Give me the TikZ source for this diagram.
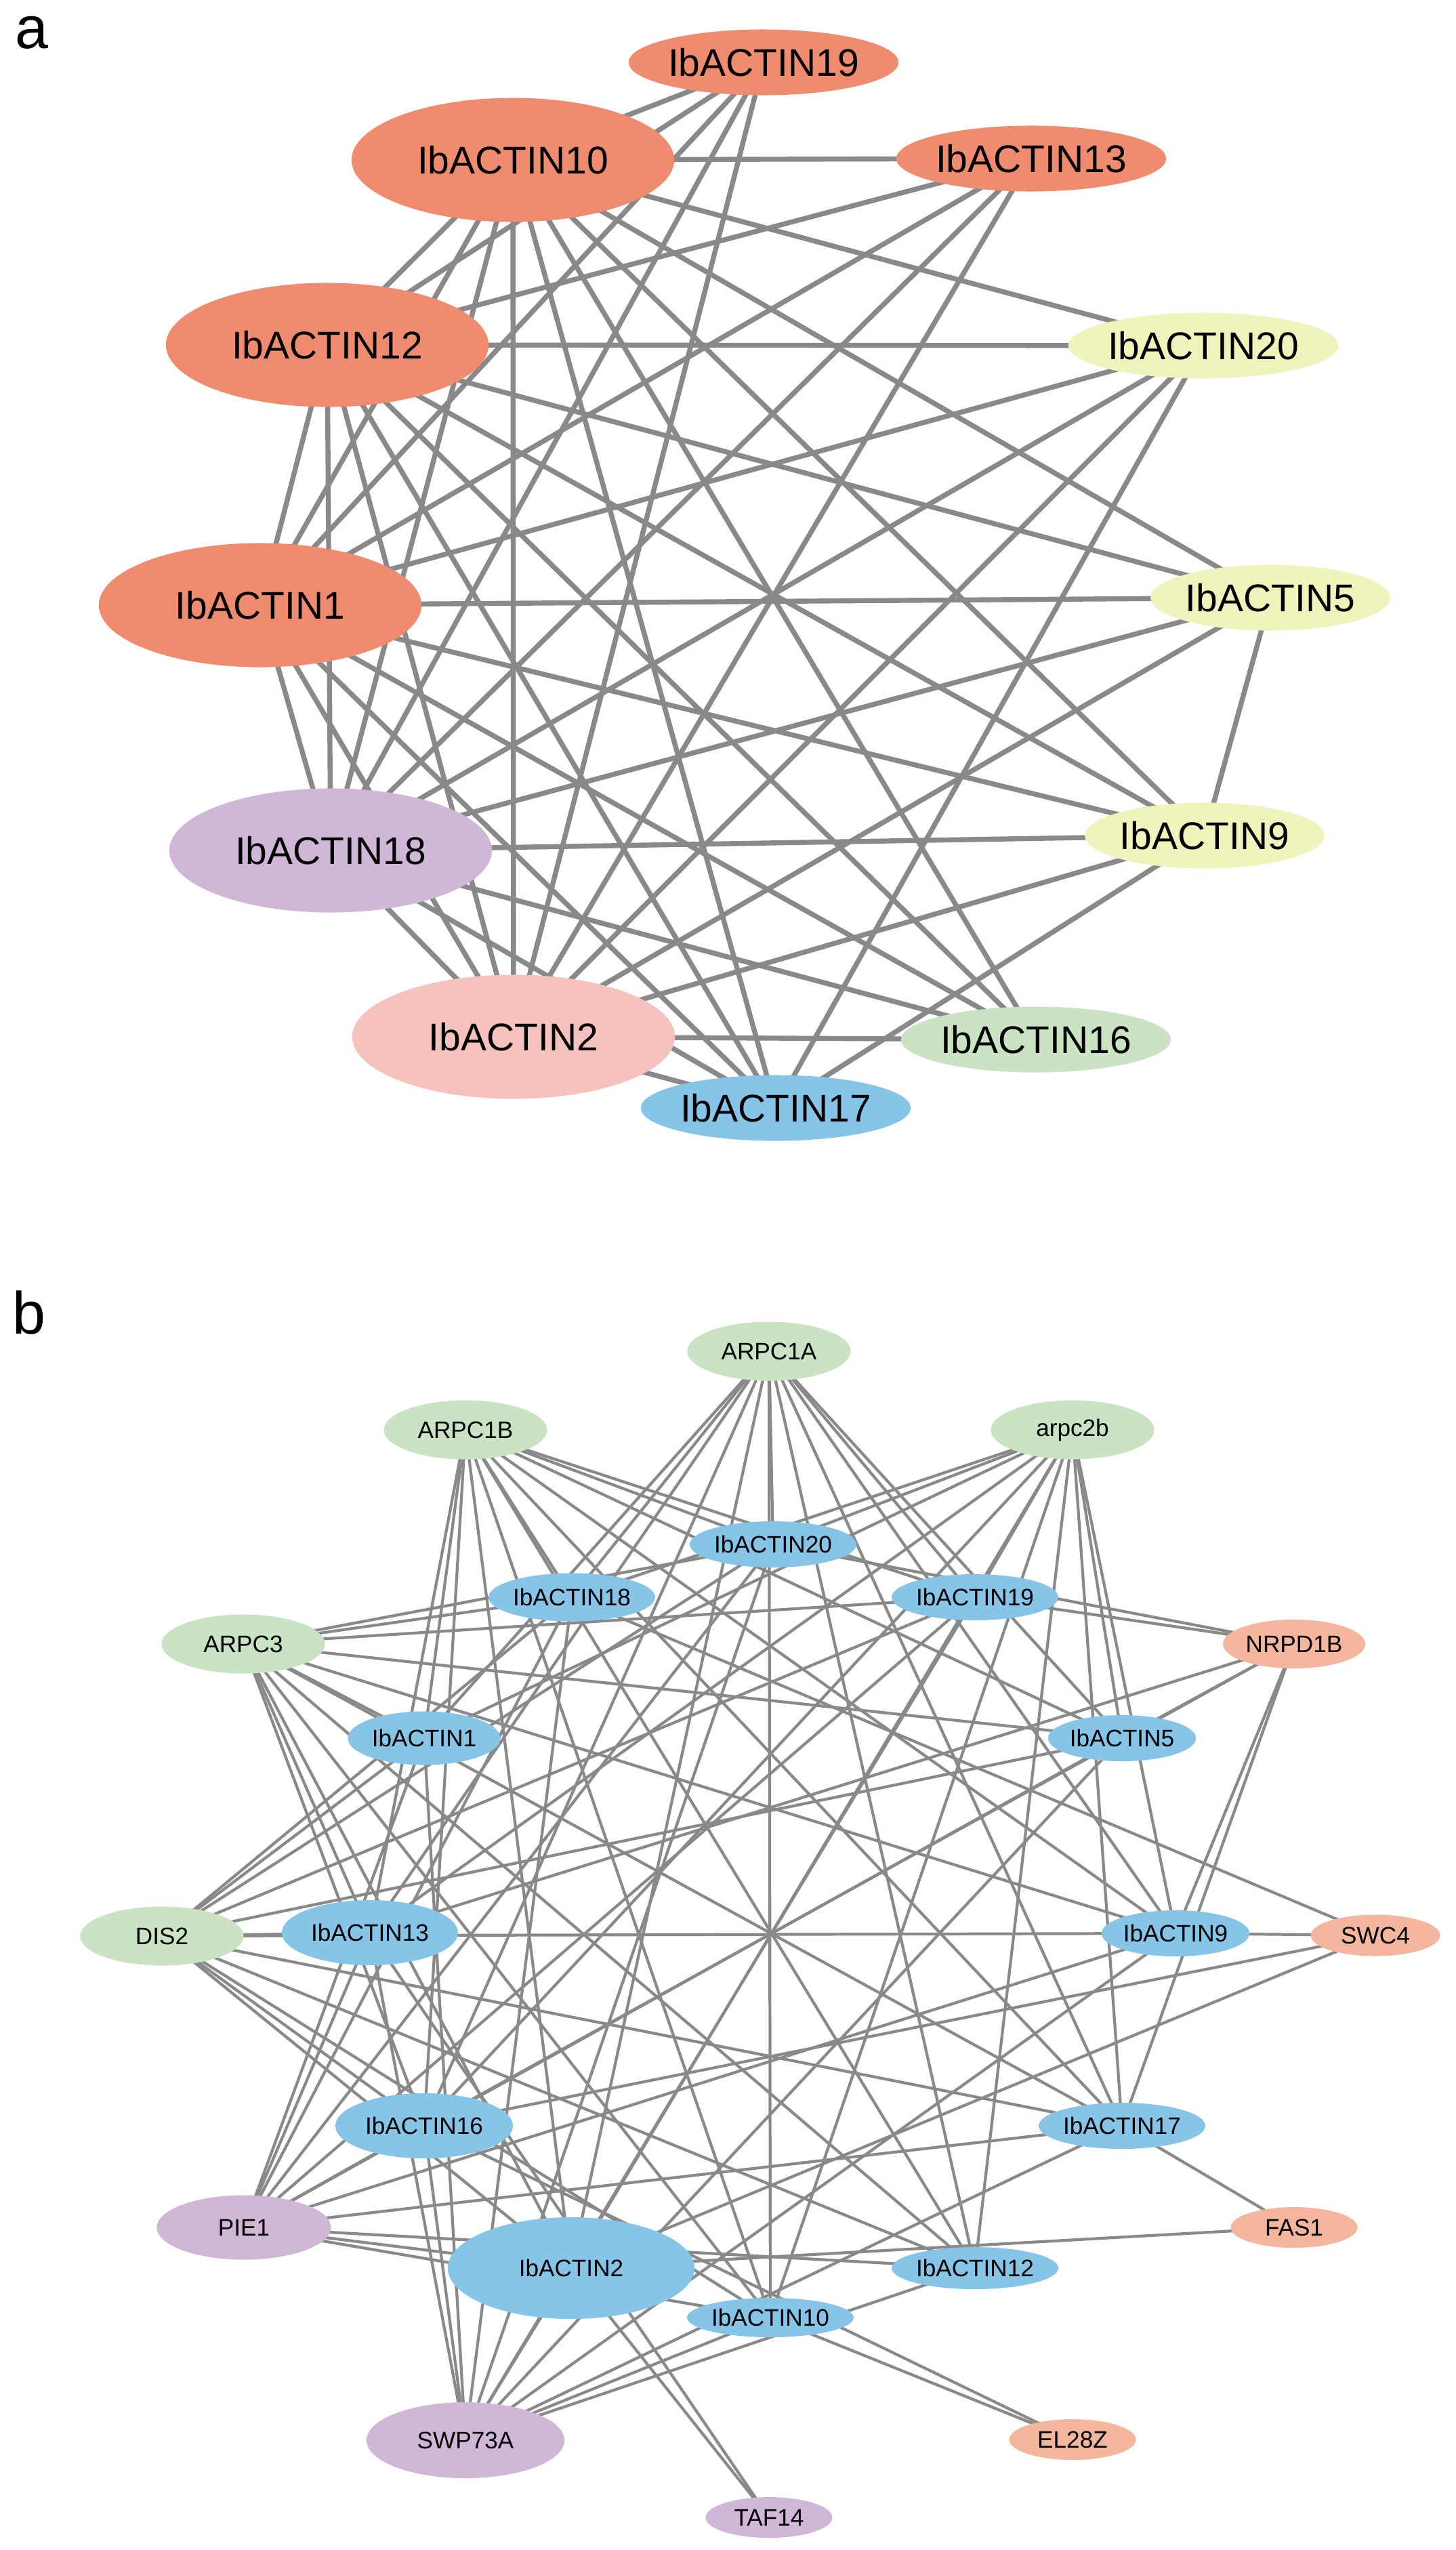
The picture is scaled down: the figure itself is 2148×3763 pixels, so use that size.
\documentclass[tikz,border=0pt]{standalone}
\usepackage{fontspec}
\setmainfont{Liberation Sans}
\usetikzlibrary{shapes.geometric}
\definecolor{aorange}{HTML}{EF8C70}
\definecolor{ayellow}{HTML}{F0F4BC}
\definecolor{apurple}{HTML}{D1B7D7}
\definecolor{apink}{HTML}{F6C2BE}
\definecolor{ablue}{HTML}{86C5E8}
\definecolor{agreen}{HTML}{C9E3C3}
\definecolor{bsalmon}{HTML}{F4B69C}
\definecolor{linegray}{HTML}{898989}
\pgfdeclarelayer{back}
\pgfdeclarelayer{bg}
\pgfsetlayers{back,bg,main}
\begin{document}
\begin{tikzpicture}[x=0.01cm,y=-0.01cm,
  anode/.style={ellipse, draw=none, inner sep=0pt, font=\fontsize{16.2}{19}\selectfont},
  abig/.style={anode, minimum width=4.76cm, minimum height=1.83cm},
  asmall/.style={anode, minimum width=3.1cm, minimum height=0.97cm},
  bnode/.style={ellipse, draw=none, inner sep=0pt, font=\fontsize{10}{12}\selectfont},
  bmid/.style={bnode, minimum width=2.41cm, minimum height=0.87cm},
  bsm/.style={bnode, minimum width=2.02cm, minimum height=0.68cm},
  bper/.style={bnode, minimum width=1.87cm, minimum height=0.6cm},
  aedge/.style={draw=linegray, line width=2.1pt},
  bedge/.style={draw=linegray, line width=1.2pt},
  panellabel/.style={anchor=base west, inner sep=0pt, font=\fontsize{25}{30}\selectfont}]
\useasboundingbox (0,0) rectangle (2148,3763);
\begin{pgfonlayer}{back}
\fill[white] (0,0) rectangle (2148,3763);
\end{pgfonlayer}

% ---------------- panel a ----------------
\node[panellabel] (la) at (22,71) {a};
\node[asmall, fill=aorange] (a19) at (1127,92) {IbACTIN19};
\node[abig, fill=aorange] (a10) at (757,236) {IbACTIN10};
\node[asmall, fill=aorange] (a13) at (1522,234) {IbACTIN13};
\node[abig, fill=aorange] (a12) at (483,509) {IbACTIN12};
\node[asmall, fill=ayellow] (a20) at (1776,510) {IbACTIN20};
\node[abig, fill=aorange] (a1) at (384,893) {IbACTIN1};
\node[asmall, fill=ayellow] (a5) at (1875,882) {IbACTIN5};
\node[abig, fill=apurple] (a18) at (488,1255) {IbACTIN18};
\node[asmall, fill=ayellow] (a9) at (1778,1233) {IbACTIN9};
\node[abig, fill=apink] (a2) at (758,1530) {IbACTIN2};
\node[asmall, fill=agreen] (a16) at (1529,1534) {IbACTIN16};
\node[asmall, fill=ablue] (a17) at (1145,1635) {IbACTIN17};

\begin{pgfonlayer}{bg}
\foreach \u/\v in {a10/a12, a10/a1, a10/a18, a10/a2, a12/a1, a12/a18, a12/a2, a1/a18, a1/a2, a18/a2,
                   a20/a17, a5/a9, a9/a17}
  \draw[aedge] (\u.center) -- (\v.center);
\foreach \u in {a19, a13, a20, a5, a9, a16, a17}
  \foreach \v in {a10, a12, a1, a18, a2}
    \draw[aedge] (\u.center) -- (\v.center);
\end{pgfonlayer}

% ---------------- panel b ----------------
\node[panellabel] (lb) at (18,1968) {b};
\node[bmid, fill=agreen] (bARPC1A) at (1135,1994) {ARPC1A};
\node[bmid, fill=agreen] (bARPC1B) at (687,2110) {ARPC1B};
\node[bmid, fill=agreen] (barpc2b) at (1583,2110) {arpc2b};
\node[bsm, fill=ablue] (b20) at (1141,2279) {IbACTIN20};
\node[bsm, fill=ablue, minimum width=2.12cm, minimum height=0.71cm] (b18) at (844,2357) {IbACTIN18};
\node[bsm, fill=ablue] (b19) at (1439,2357) {IbACTIN19};
\node[bmid, fill=agreen] (bARPC3) at (359,2426) {ARPC3};
\node[bsm, fill=bsalmon, minimum width=2.1cm, minimum height=0.72cm] (bNRPD1B) at (1910,2426) {NRPD1B};
\node[bsm, fill=ablue, minimum width=2.25cm, minimum height=0.79cm] (b1) at (626,2565) {IbACTIN1};
\node[bsm, fill=ablue] (b5) at (1656,2565) {IbACTIN5};
\node[bmid, fill=agreen] (bDIS2) at (239,2857) {DIS2};
\node[bnode, fill=ablue, minimum width=2.6cm, minimum height=0.96cm] (b13) at (546,2852) {IbACTIN13};
\node[bsm, fill=ablue] (b9) at (1735,2853) {IbACTIN9};
\node[bper, fill=bsalmon, minimum width=1.91cm, minimum height=0.61cm] (bSWC4) at (2030,2856) {SWC4};
\node[bnode, fill=ablue, minimum width=2.62cm, minimum height=0.96cm] (b16) at (626,3137) {IbACTIN16};
\node[bsm, fill=ablue] (b17) at (1656,3137) {IbACTIN17};
\node[bnode, fill=apurple, minimum width=2.57cm, minimum height=0.95cm] (bPIE1) at (360,3287) {PIE1};
\node[bnode, fill=ablue, minimum width=3.64cm, minimum height=1.5cm] (b2) at (843,3347) {IbACTIN2};
\node[bnode, fill=ablue, minimum width=1.92cm, minimum height=0.62cm] (b12) at (1439,3347) {IbACTIN12};
\node[bper, fill=bsalmon] (bFAS1) at (1910,3287) {FAS1};
\node[bnode, fill=ablue, minimum width=1.92cm, minimum height=0.58cm] (b10) at (1137,3420) {IbACTIN10};
\node[bper, fill=bsalmon] (bEL28Z) at (1583,3600) {EL28Z};
\node[bnode, fill=apurple, minimum width=2.92cm, minimum height=1.12cm] (bSWP73A) at (687,3601) {SWP73A};
\node[bper, fill=apurple] (bTAF14) at (1135,3715) {TAF14};

\begin{pgfonlayer}{bg}
\foreach \h in {bARPC1A, bARPC1B, barpc2b, bARPC3, bDIS2, bSWP73A, bPIE1}
  \foreach \v in {b20, b18, b19, b1, b5, b13, b9, b16, b17, b2, b12, b10}
    \draw[bedge] (\h.center) -- (\v.center);
\foreach \v in {b20, b19, b13, b5, b16, b9, b17}
  \draw[bedge] (bNRPD1B.center) -- (\v.center);
\foreach \v in {b9, b18, b16, b2}
  \draw[bedge] (bSWC4.center) -- (\v.center);
\foreach \u/\v in {bFAS1/b17, bFAS1/b2, bEL28Z/b10, bEL28Z/b16, bTAF14/b2, bTAF14/b13}
  \draw[bedge] (\u.center) -- (\v.center);
\end{pgfonlayer}
\end{tikzpicture}
\end{document}
